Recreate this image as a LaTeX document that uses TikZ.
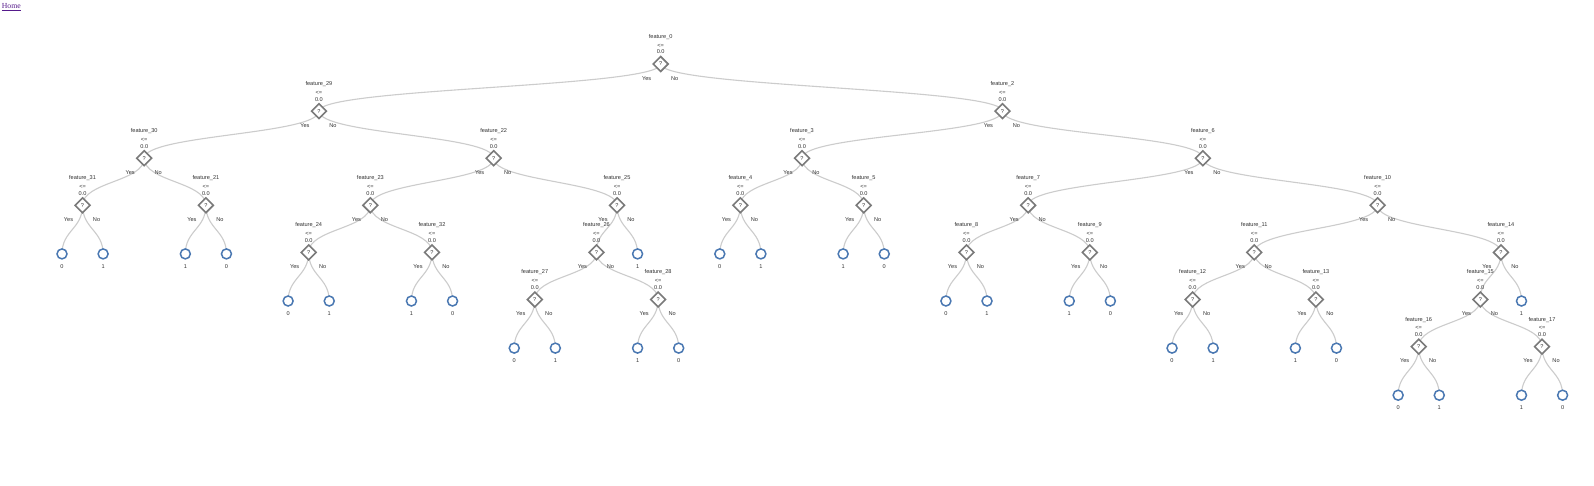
\documentclass[tikz,border=0pt]{standalone}
\usepackage{fontspec}
\setmainfont{Liberation Sans}
\newfontfamily\homefont{Liberation Serif}
\usetikzlibrary{shapes.geometric}
\pgfdeclarelayer{bg}
\pgfsetlayers{bg,main}
\definecolor{txt}{HTML}{333333}
\definecolor{edgecol}{HTML}{CCCCCC}
\definecolor{decol}{HTML}{7A7A7A}
\definecolor{leafcol}{HTML}{4A78B2}
\definecolor{visited}{HTML}{551A8B}
\tikzset{
  lbl/.style={font=\fontsize{5.6}{6}\selectfont, text=txt, inner sep=0pt},
  dec/.style={diamond, draw=decol, line width=1.6pt, fill=white, minimum width=15.5pt, minimum height=15.5pt, inner sep=0pt, aspect=1, font=\fontsize{5.6}{6}\selectfont, text=txt},
  leafnode/.style={circle, draw=leafcol, line width=1.5pt, fill=white, minimum size=10pt, inner sep=0pt},
  treeedge/.style={draw=edgecol, line width=1.1pt},
}
\newcommand{\decnode}[4]{%
  \node[dec] (#1) at ({62+20.556*(#2)},{64+47.1*(#3)}) {?};
  \node[lbl] (#1-f) at ([yshift=27pt]#1.center) {#4};
  \node[lbl] (#1-le) at ([yshift=18.5pt]#1.center) {<=};
  \node[lbl] (#1-v) at ([yshift=12pt]#1.center) {0.0};
  \node[lbl] (#1-y) at ([xshift=-14pt,yshift=-14.3pt]#1.center) {Yes};
  \node[lbl] (#1-n) at ([xshift=14pt,yshift=-14.3pt]#1.center) {No};
}
\newcommand{\leafat}[4]{%
  \node[leafnode] (#1) at ({62+20.556*(#2)},{65.5+47.1*(#3)}) {};
  \node[lbl] (#1-t) at ([yshift=-12.2pt]#1.center) {#4};
}
\newcommand{\treelink}[2]{\draw[treeedge] (#1.center) to[out=-90,in=90,out distance=23.5pt,in distance=23.5pt] (#2.center);}
\begin{document}
\begin{tikzpicture}[x=1pt,y=-1pt]
\begin{pgfonlayer}{bg}
\fill[white] (0,0) rectangle (1594,485);
\end{pgfonlayer}
\useasboundingbox (0,0) rectangle (1594,485);
\node[anchor=base west, inner sep=0pt, text=visited, font=\homefont\fontsize{7.7}{9}\selectfont] (home) at (1.7,8.3) {\underline{Home}};
% decision nodes
\decnode{f0}{29.125}{0}{feature\_0}
\decnode{f29}{12.5}{1}{feature\_29}
\decnode{f2}{45.75}{1}{feature\_2}
\decnode{f30}{4}{2}{feature\_30}
\decnode{f22}{21}{2}{feature\_22}
\decnode{f3}{36}{2}{feature\_3}
\decnode{f6}{55.5}{2}{feature\_6}
\decnode{f31}{1}{3}{feature\_31}
\decnode{f21}{7}{3}{feature\_21}
\decnode{f23}{15}{3}{feature\_23}
\decnode{f25}{27}{3}{feature\_25}
\decnode{f4}{33}{3}{feature\_4}
\decnode{f5}{39}{3}{feature\_5}
\decnode{f7}{47}{3}{feature\_7}
\decnode{f10}{64}{3}{feature\_10}
\decnode{f24}{12}{4}{feature\_24}
\decnode{f32}{18}{4}{feature\_32}
\decnode{f26}{26}{4}{feature\_26}
\decnode{f8}{44}{4}{feature\_8}
\decnode{f9}{50}{4}{feature\_9}
\decnode{f11}{58}{4}{feature\_11}
\decnode{f14}{70}{4}{feature\_14}
\decnode{f27}{23}{5}{feature\_27}
\decnode{f28}{29}{5}{feature\_28}
\decnode{f12}{55}{5}{feature\_12}
\decnode{f13}{61}{5}{feature\_13}
\decnode{f15}{69}{5}{feature\_15}
\decnode{f16}{66}{6}{feature\_16}
\decnode{f17}{72}{6}{feature\_17}
% leaves
\leafat{l1}{0}{4}{0}
\leafat{l2}{2}{4}{1}
\leafat{l3}{6}{4}{1}
\leafat{l4}{8}{4}{0}
\leafat{l5}{11}{5}{0}
\leafat{l6}{13}{5}{1}
\leafat{l7}{17}{5}{1}
\leafat{l8}{19}{5}{0}
\leafat{l9}{22}{6}{0}
\leafat{l10}{24}{6}{1}
\leafat{l11}{28}{6}{1}
\leafat{l12}{30}{6}{0}
\leafat{l13}{28}{4}{1}
\leafat{l14}{32}{4}{0}
\leafat{l15}{34}{4}{1}
\leafat{l16}{38}{4}{1}
\leafat{l17}{40}{4}{0}
\leafat{l18}{43}{5}{0}
\leafat{l19}{45}{5}{1}
\leafat{l20}{49}{5}{1}
\leafat{l21}{51}{5}{0}
\leafat{l22}{54}{6}{0}
\leafat{l23}{56}{6}{1}
\leafat{l24}{60}{6}{1}
\leafat{l25}{62}{6}{0}
\leafat{l26}{71}{5}{1}
\leafat{l27}{65}{7}{0}
\leafat{l28}{67}{7}{1}
\leafat{l29}{71}{7}{1}
\leafat{l30}{73}{7}{0}
% edges
\begin{pgfonlayer}{bg}
\treelink{f0}{f29}\treelink{f0}{f2}
\treelink{f29}{f30}\treelink{f29}{f22}
\treelink{f2}{f3}\treelink{f2}{f6}
\treelink{f30}{f31}\treelink{f30}{f21}
\treelink{f22}{f23}\treelink{f22}{f25}
\treelink{f3}{f4}\treelink{f3}{f5}
\treelink{f6}{f7}\treelink{f6}{f10}
\treelink{f31}{l1}\treelink{f31}{l2}
\treelink{f21}{l3}\treelink{f21}{l4}
\treelink{f23}{f24}\treelink{f23}{f32}
\treelink{f25}{f26}\treelink{f25}{l13}
\treelink{f4}{l14}\treelink{f4}{l15}
\treelink{f5}{l16}\treelink{f5}{l17}
\treelink{f7}{f8}\treelink{f7}{f9}
\treelink{f10}{f11}\treelink{f10}{f14}
\treelink{f24}{l5}\treelink{f24}{l6}
\treelink{f32}{l7}\treelink{f32}{l8}
\treelink{f26}{f27}\treelink{f26}{f28}
\treelink{f8}{l18}\treelink{f8}{l19}
\treelink{f9}{l20}\treelink{f9}{l21}
\treelink{f11}{f12}\treelink{f11}{f13}
\treelink{f14}{f15}\treelink{f14}{l26}
\treelink{f27}{l9}\treelink{f27}{l10}
\treelink{f28}{l11}\treelink{f28}{l12}
\treelink{f12}{l22}\treelink{f12}{l23}
\treelink{f13}{l24}\treelink{f13}{l25}
\treelink{f15}{f16}\treelink{f15}{f17}
\treelink{f16}{l27}\treelink{f16}{l28}
\treelink{f17}{l29}\treelink{f17}{l30}
\end{pgfonlayer}
\end{tikzpicture}
\end{document}
